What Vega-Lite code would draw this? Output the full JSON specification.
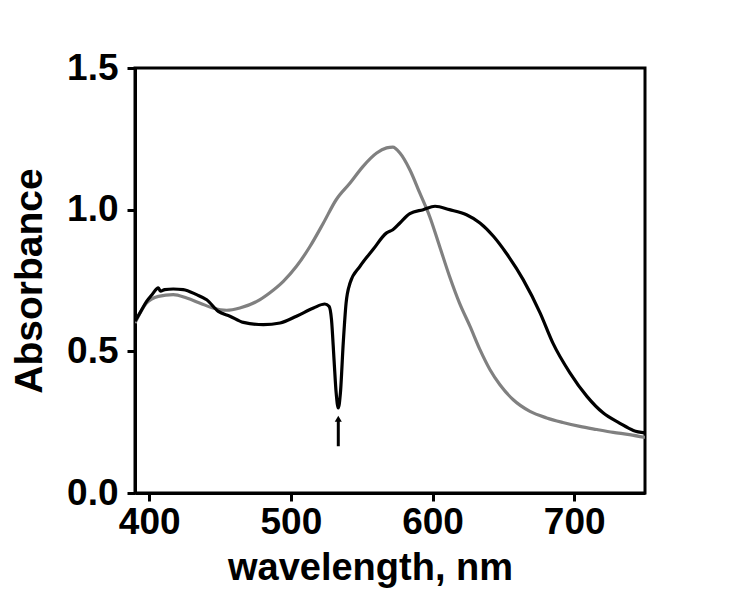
{
  "$schema": "https://vega.github.io/schema/vega-lite/v6.json",
  "width": 510,
  "height": 425,
  "autosize": {"type": "none"},
  "padding": {"left": 135, "top": 68, "right": 105, "bottom": 99},
  "background": "white",
  "config": {
    "view": {"stroke": "black", "strokeWidth": 3},
    "font": "Liberation Sans"
  },
  "datasets": {
    "black": [
      {"x": 390, "y": 0.606}, {"x": 394, "y": 0.64}, {"x": 398.2, "y": 0.676}, {"x": 402, "y": 0.70}, {"x": 406.5, "y": 0.724},
      {"x": 408, "y": 0.712}, {"x": 411, "y": 0.718}, {"x": 417, "y": 0.72}, {"x": 424, "y": 0.718}, {"x": 433.5, "y": 0.70},
      {"x": 440.6, "y": 0.682}, {"x": 448.8, "y": 0.641}, {"x": 457, "y": 0.624}, {"x": 466.5, "y": 0.602},
      {"x": 480.6, "y": 0.594}, {"x": 492.4, "y": 0.60}, {"x": 504, "y": 0.624}, {"x": 516, "y": 0.653},
      {"x": 524, "y": 0.667}, {"x": 527, "y": 0.659}, {"x": 528.7, "y": 0.612}, {"x": 530.5, "y": 0.47},
      {"x": 532, "y": 0.353}, {"x": 533.5, "y": 0.30}, {"x": 535, "y": 0.353}, {"x": 537, "y": 0.53},
      {"x": 539, "y": 0.67}, {"x": 541.8, "y": 0.741}, {"x": 548.8, "y": 0.80}, {"x": 558, "y": 0.859},
      {"x": 567.6, "y": 0.918}, {"x": 572, "y": 0.929}, {"x": 577, "y": 0.953}, {"x": 584, "y": 0.986},
      {"x": 593.5, "y": 1.0}, {"x": 601.8, "y": 1.012}, {"x": 612, "y": 1.0}, {"x": 624, "y": 0.982},
      {"x": 633.5, "y": 0.953}, {"x": 643, "y": 0.906}, {"x": 652, "y": 0.847}, {"x": 664, "y": 0.753},
      {"x": 676, "y": 0.635}, {"x": 685, "y": 0.529}, {"x": 697, "y": 0.424}, {"x": 709, "y": 0.341},
      {"x": 720.6, "y": 0.282}, {"x": 732, "y": 0.247}, {"x": 741.8, "y": 0.221}, {"x": 750, "y": 0.212}
    ],
    "gray": [
      {"x": 390, "y": 0.60}, {"x": 398, "y": 0.67}, {"x": 406.5, "y": 0.694}, {"x": 417, "y": 0.70},
      {"x": 426.5, "y": 0.688}, {"x": 436, "y": 0.67}, {"x": 445, "y": 0.653}, {"x": 454.7, "y": 0.645},
      {"x": 464, "y": 0.653}, {"x": 476, "y": 0.676}, {"x": 485, "y": 0.706}, {"x": 494.7, "y": 0.747},
      {"x": 504, "y": 0.80}, {"x": 513.5, "y": 0.87}, {"x": 523, "y": 0.953}, {"x": 532, "y": 1.035},
      {"x": 541.8, "y": 1.094}, {"x": 551, "y": 1.153}, {"x": 560.6, "y": 1.20}, {"x": 567.6, "y": 1.218},
      {"x": 572, "y": 1.221}, {"x": 577, "y": 1.20}, {"x": 584, "y": 1.141}, {"x": 591, "y": 1.059},
      {"x": 598, "y": 0.976}, {"x": 605, "y": 0.871}, {"x": 612, "y": 0.765}, {"x": 619, "y": 0.671},
      {"x": 626.5, "y": 0.588}, {"x": 633.5, "y": 0.506}, {"x": 640.6, "y": 0.435}, {"x": 647.6, "y": 0.382},
      {"x": 657, "y": 0.329}, {"x": 668.8, "y": 0.288}, {"x": 680.6, "y": 0.265}, {"x": 692, "y": 0.249},
      {"x": 704, "y": 0.235}, {"x": 716, "y": 0.224}, {"x": 727.6, "y": 0.214}, {"x": 739, "y": 0.206},
      {"x": 750, "y": 0.196}
    ],
    "arrow": [{"x": 533.5, "y": 0.165, "y2": 0.255, "tip": 0.262}]
  },
  "layer": [
    {
      "data": {"name": "gray"},
      "mark": {"type": "line", "color": "#808080", "strokeWidth": 3.2, "clip": true, "interpolate": "monotone"},
      "encoding": {
        "x": {
          "field": "x", "type": "quantitative",
          "scale": {"domain": [390, 750], "nice": false, "zero": false},
          "axis": {
            "title": "wavelength, nm", "values": [400, 500, 600, 700],
            "grid": false, "domainColor": "black", "domainWidth": 3,
            "tickColor": "black", "tickWidth": 3, "tickSize": 8,
            "labelFont": "Liberation Sans", "labelFontWeight": "bold", "labelFontSize": 37, "labelColor": "black",
            "labelPadding": 3, "labelFlush": false,
            "titleFont": "Liberation Sans", "titleFontWeight": "bold", "titleFontSize": 38, "titleColor": "black",
            "titlePadding": 9, "titleX": 235
          }
        },
        "y": {
          "field": "y", "type": "quantitative",
          "scale": {"domain": [0, 1.5], "nice": false},
          "axis": {
            "title": "Absorbance", "values": [0, 0.5, 1, 1.5], "format": ".1f",
            "grid": false, "domainColor": "black", "domainWidth": 3,
            "tickColor": "black", "tickWidth": 3, "tickSize": 8,
            "labelFont": "Liberation Sans", "labelFontWeight": "bold", "labelFontSize": 37, "labelColor": "black",
            "labelPadding": 9, "labelFlush": false,
            "titleFont": "Liberation Sans", "titleFontWeight": "bold", "titleFontSize": 39, "titleColor": "black",
            "titlePadding": 17
          }
        }
      }
    },
    {
      "data": {"name": "black"},
      "mark": {"type": "line", "color": "black", "strokeWidth": 3.2, "clip": true, "interpolate": "monotone"},
      "encoding": {
        "x": {"field": "x", "type": "quantitative"},
        "y": {"field": "y", "type": "quantitative"}
      }
    },
    {
      "data": {"name": "arrow"},
      "mark": {"type": "rule", "color": "black", "strokeWidth": 3},
      "encoding": {
        "x": {"field": "x", "type": "quantitative"},
        "y": {"field": "y", "type": "quantitative"},
        "y2": {"field": "y2"}
      }
    },
    {
      "data": {"name": "arrow"},
      "mark": {"type": "point", "shape": "triangle-up", "filled": true, "color": "black", "size": 50, "opacity": 1},
      "encoding": {
        "x": {"field": "x", "type": "quantitative"},
        "y": {"field": "tip", "type": "quantitative"}
      }
    }
  ]
}
